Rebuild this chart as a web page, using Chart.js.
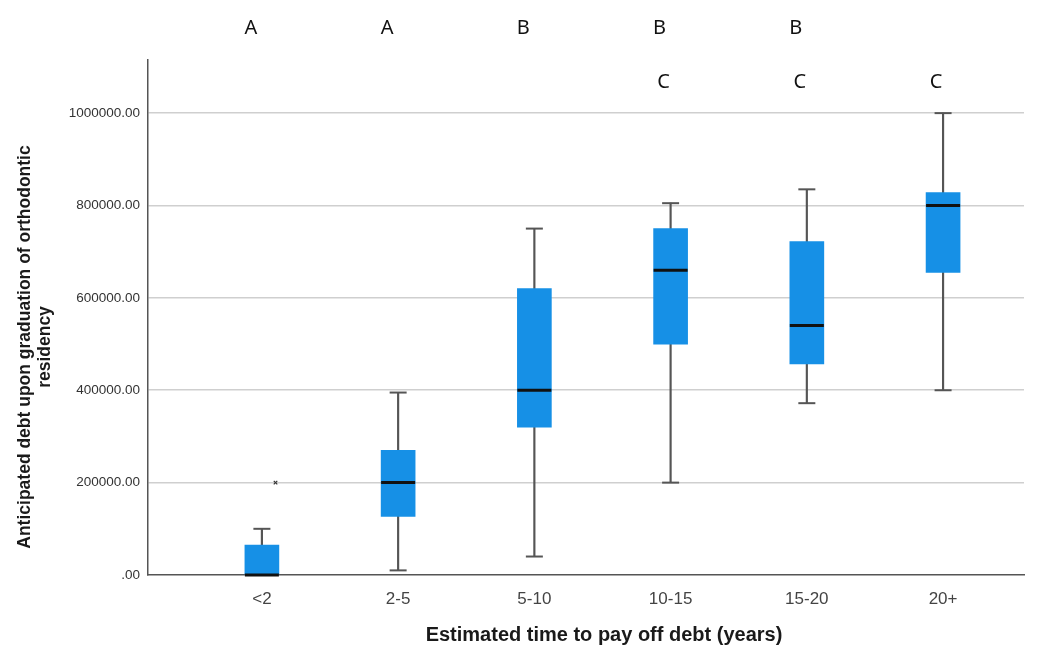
<!DOCTYPE html>
<html>
<head>
<meta charset="utf-8">
<script src="https://cdn.jsdelivr.net/npm/chart.js@4"></script>
<style>
  html, body { margin: 0; padding: 0; background: #fff; }
</style>
</head>
<body>
<canvas id="chart_area" width="1044" height="645"></canvas>
<script>
// box plot values
const categories = ['<2', '2-5', '5-10', '10-15', '15-20', '20+'];
const whiskerLow = [0, 10000, 40000, 200000, 372000, 400000];
const boxLow = [0, 127000, 320000, 500000, 457000, 655000];
const medians = [0, 200000, 400000, 660000, 540000, 800000];
const boxHigh = [65000, 270000, 620000, 750000, 722000, 828000];
const whiskerHigh = [100000, 395000, 750000, 805000, 835000, 1000000];
const outliers = [{x: 0.1, y: 200000}];
const yTicks = [0, 200000, 400000, 600000, 800000, 1000000];
const groupTop = ['A', 'A', 'B', 'B', 'B', ''];
const groupBottom = ['', '', '', 'C', 'C', 'C'];
const xTitle = 'Estimated time to pay off debt (years)';
const yTitle = ['Anticipated debt upon graduation of orthodontic', 'residency'];

const pts = (arr) => arr.map((v, i) => ({x: i, y: v}));
const ranges = (lo, hi) => lo.map((v, i) => ({x: i, y: [v, hi[i]]}));

const textPlugin = {
  id: 'textPlugin',
  afterDraw(chart) {
    const ctx = chart.ctx;
    const xs = chart.scales.x;
    ctx.save();
    ctx.fillStyle = '#1a1a1a';
    // y title, two lines
    ctx.font = 'bold 17.5px "Liberation Sans", Arial, sans-serif';
    ctx.textAlign = 'center';
    ctx.textBaseline = 'middle';
    ctx.save();
    ctx.translate(25, 347);
    ctx.rotate(-Math.PI / 2);
    ctx.fillText(yTitle[0], 0, 0);
    ctx.fillText(yTitle[1], 0, 20);
    ctx.restore();
    // x title
    ctx.font = 'bold 20px "Liberation Sans", Arial, sans-serif';
    ctx.fillText(xTitle, 604, 635);
    // group letters
    ctx.font = '20px "Noto Sans", sans-serif';
    ctx.fillStyle = '#111';
    for (let i = 0; i < categories.length; i++) {
      const px = xs.getPixelForValue(i);
      if (groupTop[i]) ctx.fillText(groupTop[i], px - 11, 28);
      if (groupBottom[i]) ctx.fillText(groupBottom[i], px - 7, 82);
    }
    ctx.restore();
  }
};

const ctx = document.getElementById('chart_area').getContext('2d');
const chart = new Chart(ctx, {
  type: 'bar',
  data: {
    datasets: [{
      label: 'whiskers',
      type: 'bar',
      data: ranges(whiskerLow, whiskerHigh),
      backgroundColor: '#555555',
      barThickness: 1.5,
      grouped: false,
      order: 5
    }, {
      label: 'box',
      type: 'bar',
      data: ranges(boxLow, boxHigh),
      backgroundColor: '#1690e6',
      barThickness: 34,
      grouped: false,
      order: 4
    }, {
      label: 'caps',
      type: 'scatter',
      data: pts(whiskerHigh).concat(pts(whiskerLow)),
      pointStyle: 'line',
      pointRadius: 8.5,
      borderWidth: 2,
      borderColor: '#555555',
      clip: false,
      order: 3
    }, {
      label: 'median',
      type: 'scatter',
      data: pts(medians),
      pointStyle: 'line',
      pointRadius: 17,
      borderWidth: 3,
      borderColor: '#111111',
      clip: false,
      order: 2
    }, {
      label: 'outlier',
      type: 'scatter',
      data: outliers,
      pointStyle: 'crossRot',
      pointRadius: 2.5,
      borderWidth: 1.2,
      borderColor: '#333333',
      order: 1
    }]
  },
  options: {
    responsive: false,
    animation: false,
    events: [],
    layout: { padding: { left: 0, top: 60, right: 4, bottom: 0 } },
    plugins: {
      legend: { display: false },
      tooltip: { enabled: false }
    },
    scales: {
      x: {
        type: 'linear',
        offset: false,
        min: -0.836,
        max: 5.594,
        afterBuildTicks: (s) => { s.ticks = categories.map((c, i) => ({value: i})); },
        afterFit: (s) => { s.height = 70; },
        ticks: {
          autoSkip: false,
          maxRotation: 0,
          padding: 14,
          color: '#444',
          font: { family: '"Liberation Sans", Arial, sans-serif', size: 17 },
          callback: (v) => categories[v]
        },
        grid: { display: false, drawTicks: false },
        border: { display: true, color: '#555', width: 1.5 }
      },
      y: {
        type: 'linear',
        min: 0,
        max: 1115000,
        afterBuildTicks: (s) => { s.ticks = yTicks.map((v) => ({value: v})); },
        afterFit: (s) => { s.width = 148; },
        ticks: {
          padding: 8,
          color: '#333',
          font: { family: '"Liberation Sans", Arial, sans-serif', size: 13.5 },
          callback: (v) => v === 0 ? '.00' : v.toFixed(2)
        },
        grid: {
          drawTicks: false,
          lineWidth: 1.5,
          color: (c) => c.tick && c.tick.value === 0 ? 'rgba(0,0,0,0)' : '#cfcfcf'
        },
        border: { display: true, color: '#555', width: 1.5 }
      }
    }
  },
  plugins: [textPlugin]
});
</script>
</body>
</html>
